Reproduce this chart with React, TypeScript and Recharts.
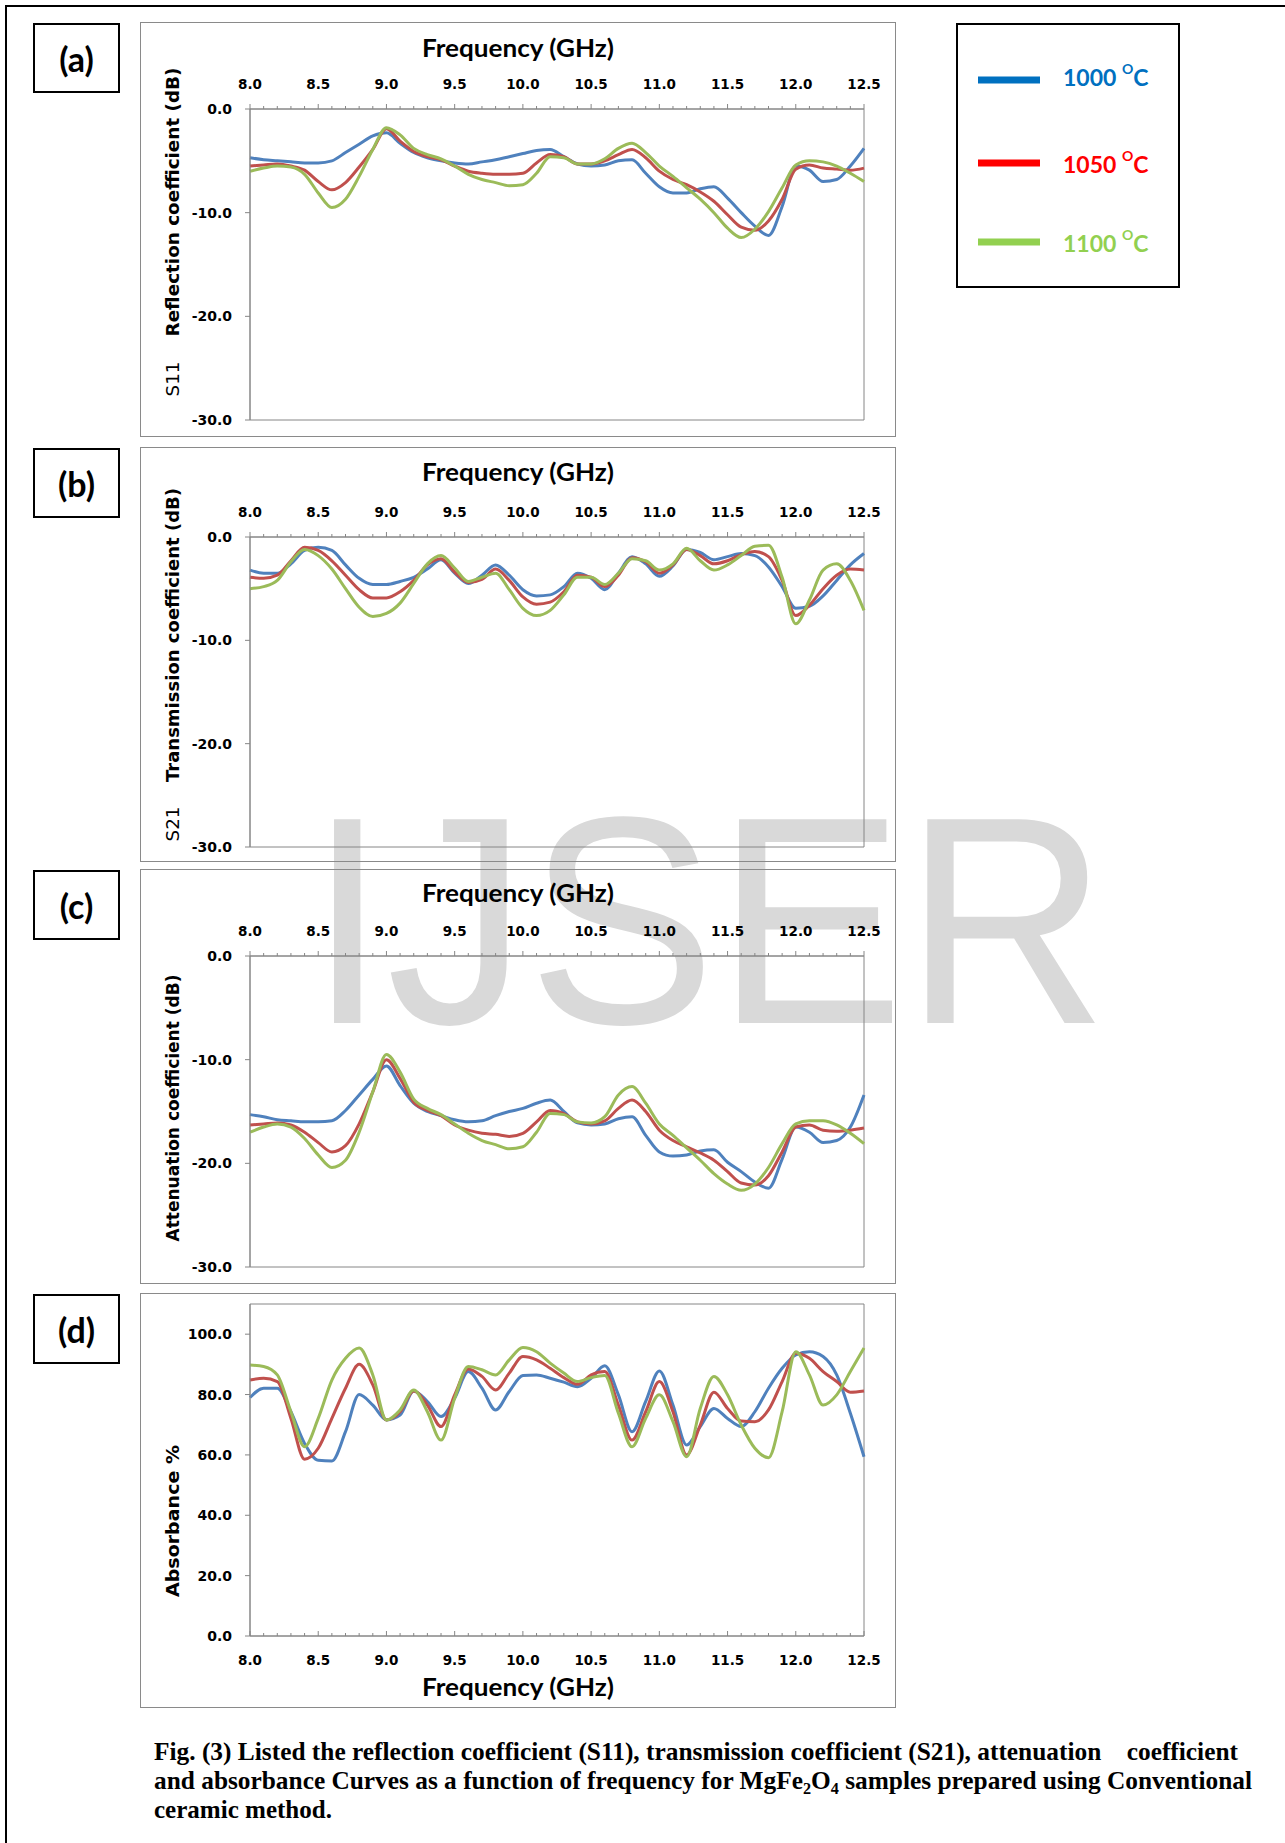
import React from 'react'
import { LineChart, Line, XAxis, YAxis, ReferenceArea, Label } from 'recharts'

// frequency grid (GHz) and the labelled major ticks
const FREQ = [
  8.0, 8.1, 8.2, 8.3, 8.4, 8.5, 8.6, 8.7, 8.8, 8.9,
  9.0, 9.1, 9.2, 9.3, 9.4, 9.5, 9.6, 9.7, 9.8, 9.9,
  10.0, 10.1, 10.2, 10.3, 10.4, 10.5, 10.6, 10.7, 10.8, 10.9,
  11.0, 11.1, 11.2, 11.3, 11.4, 11.5, 11.6, 11.7, 11.8, 11.9,
  12.0, 12.1, 12.2, 12.3, 12.4, 12.5,
]
const FREQ_LABELS = ['8.0', '8.5', '9.0', '9.5', '10.0', '10.5', '11.0', '11.5', '12.0', '12.5']
const DB_TICKS = [-30, -20, -10, 0]
const ABS_TICKS = [0, 20, 40, 60, 80, 100]

const TEMPS = ['1000', '1050', '1100']

// (a) S11 reflection coefficient, dB
const S11_1000 = [-4.7, -4.9, -5.0, -5.1, -5.2, -5.2, -5.0, -4.2, -3.4, -2.6, -2.3, -3.3, -4.2, -4.7, -5.0, -5.2, -5.3, -5.1, -4.9, -4.6, -4.3, -4.0, -3.9, -4.6, -5.3, -5.5, -5.4, -5.0, -4.9, -6.2, -7.5, -8.1, -8.1, -7.7, -7.5, -8.6, -10.0, -11.3, -12.2, -9.4, -5.5, -5.9, -7.0, -6.8, -5.5, -3.8]
const S11_1050 = [-5.5, -5.4, -5.3, -5.5, -5.9, -7.0, -7.8, -7.1, -5.6, -3.9, -1.9, -3.1, -4.1, -4.6, -4.9, -5.5, -6.0, -6.2, -6.3, -6.3, -6.2, -5.2, -4.4, -4.6, -5.3, -5.3, -5.0, -4.4, -3.9, -4.7, -6.0, -6.8, -7.3, -8.0, -8.9, -10.2, -11.4, -11.7, -10.8, -8.7, -5.8, -5.4, -5.7, -5.8, -5.9, -5.7]
const S11_1100 = [-6.0, -5.7, -5.5, -5.6, -6.3, -8.1, -9.5, -8.7, -6.5, -3.9, -1.8, -2.5, -3.8, -4.4, -4.8, -5.5, -6.3, -6.8, -7.1, -7.4, -7.3, -6.2, -4.6, -4.7, -5.3, -5.3, -4.8, -3.8, -3.3, -4.2, -5.5, -6.5, -7.6, -8.7, -10.0, -11.5, -12.4, -11.6, -9.9, -7.6, -5.4, -5.0, -5.1, -5.5, -6.2, -7.0]

// (b) S21 transmission coefficient, dB
const S21_1000 = [-3.2, -3.5, -3.5, -2.6, -1.3, -1.0, -1.3, -2.7, -4.0, -4.6, -4.6, -4.3, -3.9, -3.1, -2.2, -3.5, -4.5, -3.7, -2.7, -3.7, -5.1, -5.7, -5.6, -4.8, -3.5, -4.0, -5.1, -3.5, -1.9, -2.6, -3.8, -2.8, -1.2, -1.5, -2.2, -1.9, -1.6, -1.8, -2.9, -4.8, -6.9, -6.7, -5.7, -4.2, -2.7, -1.6]
const S21_1050 = [-3.9, -4.0, -3.7, -2.3, -1.0, -1.3, -2.3, -3.7, -5.1, -5.9, -5.9, -5.3, -4.2, -2.7, -2.1, -3.4, -4.4, -4.1, -3.1, -4.2, -5.8, -6.5, -6.3, -5.3, -3.7, -3.9, -4.8, -3.7, -2.0, -2.4, -3.5, -2.7, -1.2, -1.8, -2.6, -2.3, -1.7, -1.4, -1.9, -4.2, -7.6, -6.6, -5.0, -3.7, -3.1, -3.2]
const S21_1100 = [-5.0, -4.8, -4.2, -2.4, -1.2, -1.8, -3.1, -5.0, -6.8, -7.7, -7.4, -6.4, -4.5, -2.6, -1.8, -3.0, -4.3, -3.9, -3.5, -5.1, -6.9, -7.6, -7.1, -5.6, -3.9, -3.9, -4.6, -3.5, -2.1, -2.3, -3.2, -2.6, -1.1, -2.3, -3.2, -2.7, -1.8, -0.9, -0.8, -3.9, -8.4, -6.1, -3.2, -2.6, -4.2, -7.1]

// (c) attenuation coefficient, dB
const ATT_1000 = [-15.3, -15.5, -15.8, -15.9, -16.0, -16.0, -15.9, -14.9, -13.4, -11.9, -10.6, -12.5, -14.2, -15.0, -15.4, -15.8, -16.0, -15.9, -15.4, -15.0, -14.7, -14.2, -13.9, -15.0, -16.1, -16.3, -16.2, -15.7, -15.5, -17.3, -18.9, -19.3, -19.2, -18.8, -18.7, -19.9, -20.8, -21.8, -22.4, -19.6, -16.5, -17.0, -18.0, -17.8, -16.5, -13.4]
const ATT_1050 = [-16.3, -16.2, -16.1, -16.3, -17.0, -18.0, -18.9, -18.3, -16.2, -13.1, -10.0, -11.8, -14.1, -14.9, -15.4, -16.3, -16.8, -17.1, -17.2, -17.4, -17.1, -16.0, -14.9, -15.2, -16.0, -16.2, -15.9, -14.7, -13.9, -15.0, -16.8, -17.8, -18.4, -19.0, -19.7, -20.8, -21.9, -22.1, -21.2, -18.9, -16.5, -16.3, -16.8, -16.9, -16.8, -16.6]
const ATT_1100 = [-17.0, -16.5, -16.2, -16.5, -17.6, -19.2, -20.4, -19.7, -17.0, -13.1, -9.5, -11.2, -13.8, -14.7, -15.3, -16.2, -17.1, -17.8, -18.2, -18.6, -18.4, -17.0, -15.2, -15.3, -16.0, -16.1, -15.5, -13.4, -12.6, -14.2, -16.2, -17.3, -18.5, -19.7, -21.0, -22.0, -22.6, -22.0, -20.4, -18.1, -16.2, -15.9, -15.9, -16.3, -17.1, -18.1]

// (d) absorbance, %
const ABS_1000 = [79.0, 82.1, 82.1, 74.3, 63.8, 58.2, 58.0, 67.7, 80.0, 76.5, 71.6, 73.2, 81.2, 77.7, 72.7, 78.8, 87.6, 82.1, 74.9, 81.0, 86.3, 86.5, 85.4, 84.1, 82.6, 85.4, 89.5, 79.9, 67.7, 77.7, 87.8, 76.5, 63.3, 69.4, 75.4, 72.1, 69.4, 74.3, 82.1, 88.7, 93.1, 94.2, 92.6, 86.5, 73.8, 59.4]
const ABS_1050 = [84.8, 85.4, 84.3, 72.1, 58.6, 62.2, 72.1, 82.1, 90.0, 83.2, 71.6, 74.3, 81.2, 76.5, 69.4, 79.9, 88.5, 86.0, 81.5, 87.1, 92.6, 91.5, 88.7, 85.6, 83.4, 86.5, 87.6, 76.5, 64.9, 74.3, 84.3, 74.3, 60.0, 69.9, 80.8, 75.4, 71.2, 71.0, 74.9, 84.3, 93.7, 92.0, 87.6, 84.3, 80.8, 81.2]
const ABS_1100 = [89.8, 89.3, 86.5, 74.3, 62.7, 72.1, 84.8, 92.0, 95.4, 86.5, 71.6, 74.9, 81.5, 74.3, 64.9, 78.8, 89.3, 88.2, 86.5, 91.5, 95.6, 94.2, 90.4, 87.1, 84.3, 85.6, 86.3, 73.8, 62.7, 72.1, 79.9, 71.0, 59.4, 75.4, 86.0, 79.9, 69.9, 62.2, 59.1, 74.3, 94.2, 86.5, 76.5, 79.9, 87.6, 95.4]

const LINE_COLORS = ['#4F81BD', '#C0504D', '#9BBB59']
const LEGEND_COLORS = ['#0070C0', '#FF0000', '#92D050']
const AXIS_GRAY = '#868686'
const FRAME_GRAY = '#8a8a8a'
const TICK_FONT = '"DejaVu Sans", Verdana, sans-serif'
const TITLE_FONT = 'Lato, Calibri, sans-serif'
const SERIF = '"Liberation Serif", "Times New Roman", serif'

const FRAME_LEFT = 140
const FRAME_W = 756
const FRAME_H = 415
const PLOT_LEFT = 250
const PLOT_RIGHT = 864

const makeRows = (series: number[][]) =>
  FREQ.map((f, i) => ({ f, s0: series[0][i], s1: series[1][i], s2: series[2][i] }))

const FreqTick = ({ x, y, payload, below }: any) => {
  const txt = Number(payload.value).toFixed(1)
  const major = FREQ_LABELS.includes(txt)
  return (
    <g>
      <line x1={x} x2={x} y1={y} y2={y - (major ? 5 : 3)} stroke={AXIS_GRAY} strokeWidth={1} />
      {major && (
        <text x={x} y={below ? y + 29 : y - 20} textAnchor="middle" fontFamily={TICK_FONT}
          fontWeight="bold" fontSize={13.5} fill="#000">{txt}</text>
      )}
    </g>
  )
}

interface PanelCfg {
  tag: string
  frameTop: number
  plotTop: number
  plotBottom: number
  below: boolean
  xTitleY: number
  yDomain: [number, number]
  yTicks: number[]
  yTitle: string
  yTitleY: number
  yTitleLen: number
  prefix?: string
  prefixY?: number
  series: number[][]
}

const PANELS: PanelCfg[] = [
  { tag: '(a)', frameTop: 22, plotTop: 109, plotBottom: 420, below: false, xTitleY: 49,
    yDomain: [-30, 0], yTicks: DB_TICKS, yTitle: 'Reflection coefficient (dB)', yTitleY: 202, yTitleLen: 269,
    prefix: 'S11', prefixY: 379, series: [S11_1000, S11_1050, S11_1100] },
  { tag: '(b)', frameTop: 447, plotTop: 537, plotBottom: 847, below: false, xTitleY: 473,
    yDomain: [-30, 0], yTicks: DB_TICKS, yTitle: 'Transmission coefficient (dB)', yTitleY: 635, yTitleLen: 294,
    prefix: 'S21', prefixY: 824, series: [S21_1000, S21_1050, S21_1100] },
  { tag: '(c)', frameTop: 869, plotTop: 956, plotBottom: 1267, below: false, xTitleY: 894,
    yDomain: [-30, 0], yTicks: DB_TICKS, yTitle: 'Attenuation coefficient (dB)', yTitleY: 1108, yTitleLen: 267,
    series: [ATT_1000, ATT_1050, ATT_1100] },
  { tag: '(d)', frameTop: 1293, plotTop: 1304, plotBottom: 1636, below: true, xTitleY: 1688,
    yDomain: [0, 110], yTicks: ABS_TICKS, yTitle: 'Absorbance %', yTitleY: 1521, yTitleLen: 152,
    series: [ABS_1000, ABS_1050, ABS_1100] },
]

function Panel({ cfg }: { cfg: PanelCfg }) {
  const data = makeRows(cfg.series)
  const top = cfg.frameTop
  const axisH = cfg.below ? top + FRAME_H - cfg.plotBottom : cfg.plotTop - top
  const margin = cfg.below
    ? { top: cfg.plotTop - top, right: FRAME_LEFT + FRAME_W - PLOT_RIGHT, bottom: 0, left: 0 }
    : { top: 0, right: FRAME_LEFT + FRAME_W - PLOT_RIGHT, bottom: top + FRAME_H - cfg.plotBottom, left: 0 }
  const titleX = 173 - FRAME_LEFT
  return (
    <>
      <div style={{ position: 'absolute', left: FRAME_LEFT, top, width: FRAME_W, height: FRAME_H,
        border: `1px solid ${FRAME_GRAY}`, boxSizing: 'border-box' }} />
      <div style={{ position: 'absolute', left: 33, top: top + 1, width: 87, height: 70, border: '2px solid #000',
        boxSizing: 'border-box', display: 'flex', alignItems: 'center', justifyContent: 'center',
        fontFamily: TITLE_FONT, fontWeight: 700, fontSize: 34, color: '#000' }}>{cfg.tag}</div>
      <div style={{ position: 'absolute', left: FRAME_LEFT, top }}>
        <LineChart width={FRAME_W} height={FRAME_H} data={data} margin={margin}>
          <ReferenceArea x1={8} x2={12.5} y1={cfg.yDomain[0]} y2={cfg.yDomain[1]} fillOpacity={0}
            stroke={AXIS_GRAY} strokeWidth={1} ifOverflow="visible" />
          <XAxis dataKey="f" type="number" domain={[8, 12.5]} ticks={FREQ} interval={0}
            orientation={cfg.below ? 'bottom' : 'top'} height={axisH}
            axisLine={{ stroke: AXIS_GRAY }} tickLine={false} tickSize={0} tickMargin={0}
            tick={(p: any) => <FreqTick {...p} below={cfg.below} />}>
            <Label content={() => (
              <text x={FRAME_W / 2} y={cfg.xTitleY - top + 8} textAnchor="middle" fontFamily={TITLE_FONT}
                fontWeight="bold" fontSize={24} textLength={192} lengthAdjust="spacingAndGlyphs" fill="#000">
                Frequency (GHz)
              </text>
            )} />
          </XAxis>
          <YAxis type="number" domain={cfg.yDomain} ticks={cfg.yTicks} interval={0} width={PLOT_LEFT - FRAME_LEFT}
            tickFormatter={(v: number) => v.toFixed(1)} tickSize={5} tickMargin={13}
            axisLine={{ stroke: AXIS_GRAY }} tickLine={{ stroke: AXIS_GRAY }}
            tick={{ fill: '#000', fontSize: 14, fontFamily: TICK_FONT, fontWeight: 700 }}>
            <Label content={() => (
              <g>
                <text x={titleX} y={cfg.yTitleY - top} transform={`rotate(-90 ${titleX} ${cfg.yTitleY - top})`}
                  textAnchor="middle" dominantBaseline="central" fontFamily={TICK_FONT} fontWeight="bold"
                  fontSize={17} textLength={cfg.yTitleLen} lengthAdjust="spacingAndGlyphs" fill="#000">
                  {cfg.yTitle}
                </text>
                {cfg.prefix && (
                  <text x={titleX} y={(cfg.prefixY as number) - top}
                    transform={`rotate(-90 ${titleX} ${(cfg.prefixY as number) - top})`}
                    textAnchor="middle" dominantBaseline="central" fontFamily={TICK_FONT}
                    fontSize={17} textLength={35} lengthAdjust="spacingAndGlyphs" fill="#000">
                    {cfg.prefix}
                  </text>
                )}
              </g>
            )} />
          </YAxis>
          {TEMPS.map((t, i) => (
            <Line key={t} type="monotone" dataKey={`s${i}`} name={`${t} °C`} stroke={LINE_COLORS[i]}
              strokeWidth={3} dot={false} isAnimationActive={false} />
          ))}
        </LineChart>
      </div>
    </>
  )
}

const LEGEND_Y = [80, 163, 242]

export default function App() {
  return (
    <div style={{ position: 'absolute', left: 0, top: 0, width: 1285, height: 1843, background: '#fff', overflow: 'hidden' }}>
      <svg width={1285} height={1843} style={{ position: 'absolute', left: 0, top: 0 }}>
        <line x1={5} x2={1285} y1={6} y2={6} stroke="#000" strokeWidth={2} />
        <line x1={6} x2={6} y1={5} y2={1843} stroke="#000" strokeWidth={2} />
        <text x={308} y={1023} fontFamily='"Liberation Sans", Arial, sans-serif' fontSize={296} fill="#d9d9d9"
          textLength={800} lengthAdjust="spacingAndGlyphs">IJSER</text>
        <rect x={957} y={24} width={222} height={263} fill="none" stroke="#000" strokeWidth={2} />
        {TEMPS.map((t, i) => (
          <g key={t}>
            <line x1={978} x2={1040} y1={LEGEND_Y[i]} y2={LEGEND_Y[i]} stroke={LEGEND_COLORS[i]} strokeWidth={7} />
            <text x={1063} y={LEGEND_Y[i] + (i === 0 ? 6 : 10)} fontFamily={TITLE_FONT} fontWeight="bold" fontSize={23}
              fill={LEGEND_COLORS[i]}>
              {t} <tspan dy={-12} fontSize={14}>O</tspan><tspan dy={12} fontSize={23}>C</tspan>
            </text>
          </g>
        ))}
        <g fontFamily={SERIF} fontWeight="bold" fontSize={25} fill="#000">
          <text x={154} y={1760} textLength={1084} lengthAdjust="spacingAndGlyphs" style={{ whiteSpace: 'pre' }}>
            {'Fig. (3) Listed the reflection coefficient (S11), transmission coefficient (S21), attenuation    coefficient'}
          </text>
          <text x={154} y={1789} textLength={1098} lengthAdjust="spacingAndGlyphs">
            and absorbance Curves as a function of frequency for MgFe<tspan dy={5} fontSize={16}>2</tspan>
            <tspan dy={-5}>O</tspan><tspan dy={5} fontSize={16}>4</tspan>
            <tspan dy={-5}> samples prepared using Conventional</tspan>
          </text>
          <text x={154} y={1818} textLength={178} lengthAdjust="spacingAndGlyphs">ceramic method.</text>
        </g>
      </svg>
      {PANELS.map(p => <Panel key={p.tag} cfg={p} />)}
    </div>
  )
}
